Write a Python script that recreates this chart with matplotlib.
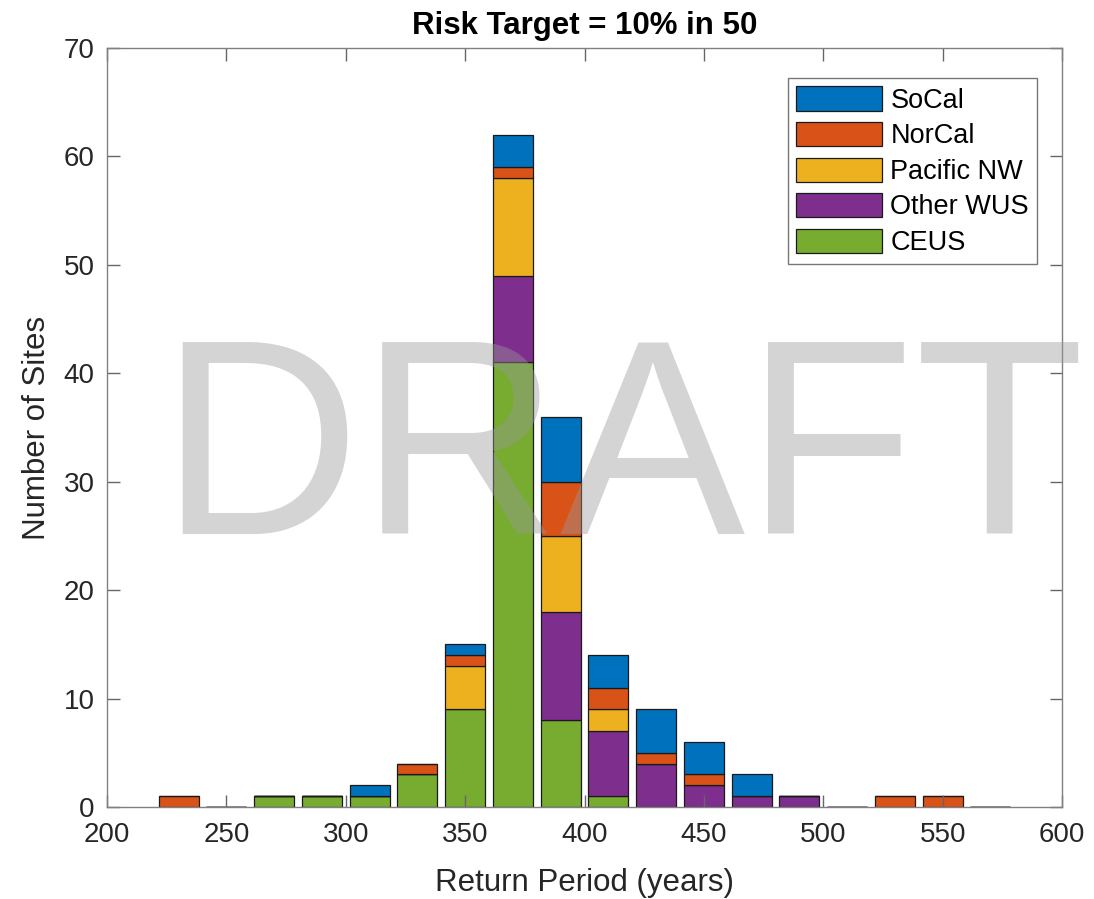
import numpy as np
import matplotlib.pyplot as plt

plt.rcParams['font.family'] = ['Liberation Sans', 'DejaVu Sans']

centers = [230, 250, 270, 290, 310, 330, 350, 370, 390, 410, 430, 450, 470, 490, 510, 530, 550, 570]
ceus = [0, 0, 1, 1, 1, 3, 9, 41, 8, 1, 0, 0, 0, 0, 0, 0, 0, 0]
other_wus = [0, 0, 0, 0, 0, 0, 0, 8, 10, 6, 4, 2, 1, 1, 0, 0, 0, 0]
pacific_nw = [0, 0, 0, 0, 0, 0, 4, 9, 7, 2, 0, 0, 0, 0, 0, 0, 0, 0]
norcal = [1, 0, 0, 0, 0, 1, 1, 1, 5, 2, 1, 1, 0, 0, 0, 1, 1, 0]
socal = [0, 0, 0, 0, 1, 0, 1, 3, 6, 3, 4, 3, 2, 0, 0, 0, 0, 0]

series = [("CEUS", ceus, "#77AC30"),
          ("Other WUS", other_wus, "#7E2F8E"),
          ("Pacific NW", pacific_nw, "#EDB120"),
          ("NorCal", norcal, "#D95319"),
          ("SoCal", socal, "#0072BD")]

fig = plt.figure(figsize=(10.94, 8.99), dpi=100)
ax = fig.add_axes([107 / 1094, 1 - 807 / 899, (1062 - 107) / 1094, (807 - 48) / 899])

bottom = np.zeros(len(centers))
handles = {}
for name, vals, col in series:
    vals = np.array(vals, dtype=float)
    h = ax.bar(centers, vals, width=16.8, bottom=bottom, color=col,
               edgecolor="#1a1a1a", linewidth=0.9, label=name)
    handles[name] = h
    bottom += vals

ax.set_xlim(200, 600)
ax.set_ylim(0, 70)
ax.set_xticks(range(200, 601, 50))
ax.set_yticks(range(0, 71, 10))
ax.tick_params(direction="in", top=True, right=True, labelsize=20,
               length=9, color="#666666", labelcolor="#262626", width=1)
ax.tick_params(axis="x", pad=11)
ax.tick_params(axis="y", pad=9)
for s in ax.spines.values():
    s.set_color("#808080")
    s.set_linewidth(1)

ax.set_xlabel("Return Period (years)", fontsize=22.5, color="#262626", labelpad=14)
ax.set_ylabel("Number of Sites", fontsize=22.5, color="#262626", labelpad=8)
ax.set_title("Risk Target = 10% in 50", fontsize=22.5, fontweight="bold", pad=10)

order = ["SoCal", "NorCal", "Pacific NW", "Other WUS", "CEUS"]
leg = ax.legend([handles[n] for n in order], order, loc="upper right",
                bbox_to_anchor=(0.974, 0.960), fontsize=19.5, fancybox=False,
                edgecolor="#555555", handlelength=3.2, handleheight=1.0,
                handletextpad=0.3, labelspacing=0.3, borderpad=0.3,
                borderaxespad=0)
leg.get_frame().set_linewidth(1)

fig.text(622 / 1094, 1 - 462 / 899, "DRAFT", fontsize=200, color="#999999", alpha=0.42,
         ha="center", va="center", zorder=10)

fig.savefig("out.png", dpi=100)
